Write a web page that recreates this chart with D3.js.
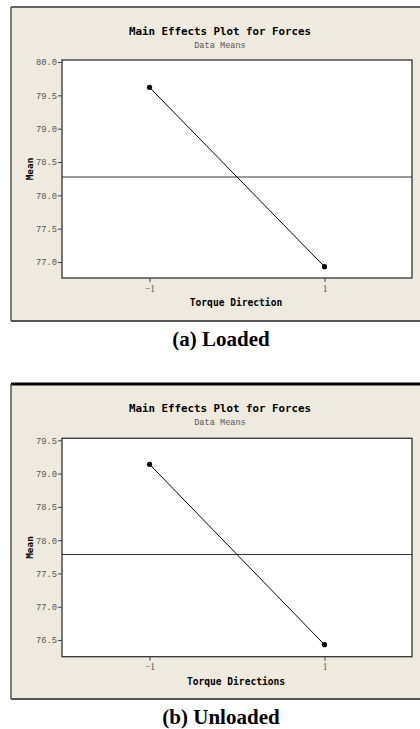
<!DOCTYPE html>
<html>
<head>
<meta charset="utf-8">
<script src="https://cdn.jsdelivr.net/npm/d3@7"></script>
<style>
body { margin: 0; background: #fff; }
svg { display: block; }
</style>
</head>
<body>
<svg id="chart" width="420" height="729"></svg>
<script>
// factor levels and data means
var levels = [-1, 1];
var loadedMeans = [79.62, 76.93];
var unloadedMeans = [79.14, 76.43];
var loadedTicks = [77.0, 77.5, 78.0, 78.5, 79.0, 79.5, 80.0];
var unloadedTicks = [76.5, 77.0, 77.5, 78.0, 78.5, 79.0, 79.5];

var svg = d3.select("#chart");
var bg = "#eeeae0";

function drawPanel(top, bottom, plotTop, plotBottom, yDomain, means, ticks, xLabel, caption, thickTop) {
	var g = svg.append("g");
	// frame
	g.append("rect").attr("x", 11).attr("y", top).attr("width", 420).attr("height", bottom - top)
		.attr("fill", bg).attr("stroke", "none");
	g.append("line").attr("x1", 11).attr("x2", 420).attr("y1", top).attr("y2", top)
		.attr("stroke", thickTop ? "#000" : "#333").attr("stroke-width", thickTop ? 3 : 1.5);
	g.append("line").attr("x1", 11).attr("x2", 11).attr("y1", top).attr("y2", bottom)
		.attr("stroke", "#555").attr("stroke-width", 1.5);
	g.append("line").attr("x1", 11).attr("x2", 420).attr("y1", bottom).attr("y2", bottom)
		.attr("stroke", "#555").attr("stroke-width", 2);

	var x = d3.scaleLinear().domain([-2, 2]).range([62, 412]);
	var y = d3.scaleLinear().domain(yDomain).range([plotBottom, plotTop]);

	// titles
	g.append("text").attr("x", 220).attr("y", top + 28).attr("text-anchor", "middle")
		.attr("font-family", "DejaVu Sans Mono").attr("font-weight", "bold").attr("font-size", 10.8)
		.attr("fill", "#000").text("Main Effects Plot for Forces");
	g.append("text").attr("x", 220).attr("y", top + 41).attr("text-anchor", "middle")
		.attr("font-family", "Liberation Mono").attr("font-size", 8.6)
		.attr("fill", "#555").text("Data Means");

	// plot area
	g.append("rect").attr("x", x(-2)).attr("y", plotTop).attr("width", x(2) - x(-2)).attr("height", plotBottom - plotTop)
		.attr("fill", "#fff").attr("stroke", "#333").attr("stroke-width", 1.3);

	var yAxis = d3.axisLeft(y).tickValues(ticks).tickSize(4).tickFormat(d3.format(".1f"));
	var ya = g.append("g").attr("transform", "translate(" + x(-2) + ",0)").call(yAxis);
	ya.select(".domain").remove();
	ya.selectAll("line").attr("stroke", "#444");
	ya.selectAll("text").attr("font-family", "Liberation Mono").attr("font-size", 8.8).attr("fill", "#555").attr("dx", 2);

	var xAxis = d3.axisBottom(x).tickValues(levels).tickSize(4).tickFormat(d3.format("d"));
	var xa = g.append("g").attr("transform", "translate(0," + plotBottom + ")").call(xAxis);
	xa.select(".domain").remove();
	xa.selectAll("line").attr("stroke", "#444");
	xa.selectAll("text").attr("font-family", "Liberation Serif").attr("font-size", 9.5).attr("fill", "#555")
		.text(function(d) { return d < 0 ? "\u2212" + Math.abs(d) : d; });

	g.append("text").attr("x", 236).attr("y", plotBottom + 28).attr("text-anchor", "middle")
		.attr("font-family", "DejaVu Sans Mono").attr("font-weight", "bold").attr("font-size", 9.6)
		.attr("fill", "#000").text(xLabel);
	g.append("text").attr("transform", "translate(32.5," + ((plotTop + plotBottom) / 2) + ") rotate(-90)")
		.attr("text-anchor", "middle").attr("font-family", "DejaVu Sans Mono").attr("font-weight", "bold")
		.attr("font-size", 9.4).attr("fill", "#000").text("Mean");

	// grand mean reference line
	var grand = d3.mean(means);
	g.append("line").attr("x1", x(-2)).attr("x2", x(2)).attr("y1", y(grand)).attr("y2", y(grand))
		.attr("stroke", "#333").attr("stroke-width", 1);

	var pts = levels.map(function(l, i) { return [l, means[i]]; });
	g.append("path").datum(pts)
		.attr("d", d3.line().x(function(d) { return x(d[0]); }).y(function(d) { return y(d[1]); }))
		.attr("fill", "none").attr("stroke", "#000").attr("stroke-width", 1);
	g.selectAll("circle.pt").data(pts).enter().append("circle")
		.attr("cx", function(d) { return x(d[0]); }).attr("cy", function(d) { return y(d[1]); })
		.attr("r", 2.6).attr("fill", "#000");

	svg.append("text").attr("x", 221).attr("y", bottom + 25).attr("text-anchor", "middle")
		.attr("font-family", "Liberation Serif").attr("font-weight", "bold").attr("font-size", 21)
		.attr("fill", "#000").text(caption);
}

drawPanel(7, 321, 60, 278, [76.76, 80.03], loadedMeans, loadedTicks, "Torque Direction", "(a) Loaded", false);
drawPanel(384, 699, 438.3, 656.7, [76.25, 79.53], unloadedMeans, unloadedTicks, "Torque Directions", "(b) Unloaded", true);
</script>
</body>
</html>
